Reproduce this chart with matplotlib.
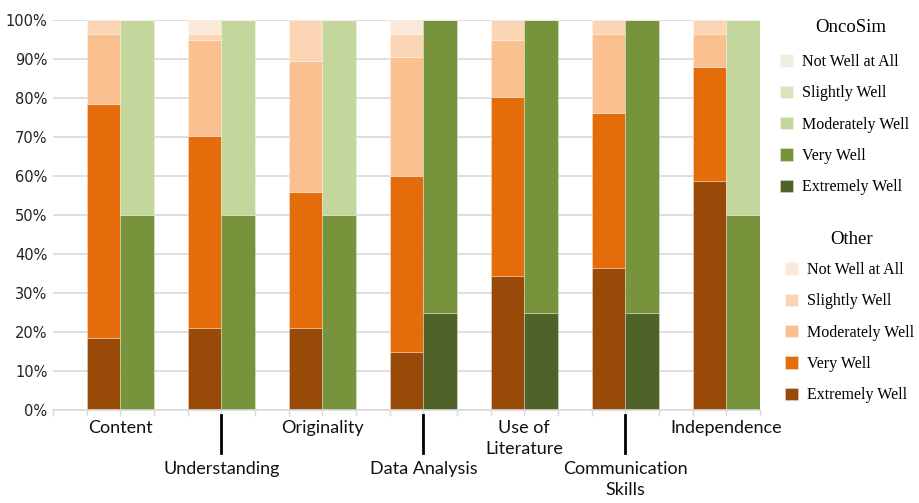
import matplotlib.pyplot as plt
import numpy as np
from matplotlib.ticker import PercentFormatter

categories = ["Content", "Understanding", "Originality", "Data Analysis",
              "Use of\nLiterature", "Communication\nSkills", "Independence"]
levels = ["Extremely Well", "Very Well", "Moderately Well", "Slightly Well", "Not Well at All"]

# "Other" responses, % of each category (bottom to top)
other_extremely = [18.5, 21.0, 21.0, 15.0, 34.4, 36.3, 58.8]
other_very = [60.0, 49.3, 34.9, 45.1, 45.9, 39.9, 29.1]
other_moderately = [18.0, 24.6, 33.7, 30.4, 14.5, 20.3, 8.6]
other_slightly = [3.5, 1.6, 10.4, 6.0, 5.2, 3.5, 3.5]
other_not = [0.0, 3.5, 0.0, 3.5, 0.0, 0.0, 0.0]

# OncoSim responses
onco_extremely = [0, 0, 0, 25, 25, 25, 0]
onco_very = [50, 50, 50, 75, 75, 75, 50]
onco_moderately = [50, 50, 50, 0, 0, 0, 50]
onco_slightly = [0, 0, 0, 0, 0, 0, 0]
onco_not = [0, 0, 0, 0, 0, 0, 0]

other_colors = ["#9A4A08", "#E46C0A", "#FAC090", "#FCD5B5", "#FDE9D9"]
onco_colors = ["#4F6228", "#77933C", "#C3D69B", "#D7E4BD", "#EBF1DE"]

other_series = [other_extremely, other_very, other_moderately, other_slightly, other_not]
onco_series = [onco_extremely, onco_very, onco_moderately, onco_slightly, onco_not]

fig = plt.figure(figsize=(9.2, 5.03), dpi=100)
ax = fig.add_axes([53 / 920, 93 / 503, 707 / 920, 390 / 503])

idx = np.arange(len(categories))
x_other = 3 * idx + 1.5
x_onco = 3 * idx + 2.5
edge = (1, 1, 1, 0.35)

other_handles = []
bottom = np.zeros(len(categories))
for vals, col, lab in zip(other_series, other_colors, levels):
    b = ax.bar(x_other, vals, width=1.0, bottom=bottom, color=col,
               edgecolor=edge, linewidth=0.6, label=lab, zorder=2)
    other_handles.append(b)
    bottom += np.array(vals)

onco_handles = []
bottom = np.zeros(len(categories))
for vals, col, lab in zip(onco_series, onco_colors, levels):
    b = ax.bar(x_onco, vals, width=1.0, bottom=bottom, color=col,
               edgecolor=edge, linewidth=0.6, label=lab, zorder=2)
    onco_handles.append(b)
    bottom += np.array(vals)

ax.set_xlim(0, 21)
ax.set_ylim(0, 100)
ax.set_yticks(np.arange(0, 101, 10))
ax.yaxis.set_major_formatter(PercentFormatter(decimals=0))
ax.yaxis.grid(True, color="#D9D9D9", linewidth=1.2)
ax.set_axisbelow(True)
for s in ["top", "right", "left"]:
    ax.spines[s].set_visible(False)
ax.spines["bottom"].set_color("#D9D9D9")
ax.spines["bottom"].set_linewidth(1.2)
ax.set_xticks(np.arange(0, 22))
ax.set_xticklabels([])
ax.tick_params(axis="x", length=4, color="#D9D9D9", width=1)
ax.tick_params(axis="y", length=0, pad=4, labelsize=10.5, labelcolor="#222222")

# category labels, alternating rows with a leader line for the lower row
trans = ax.get_xaxis_transform()
for i, name in enumerate(categories):
    xc = 3 * i + 2
    lower = i % 2 == 1
    y = -0.132 if lower else -0.026
    ax.text(xc, y, name, transform=trans, ha="center", va="top",
            fontsize=13, family="Lato", linespacing=1.35, color="#111111")
    if lower:
        ax.plot([xc, xc], [-0.013, -0.11], transform=trans, color="black",
                linewidth=2, clip_on=False)

# two legends, titles placed as separate text
legend_font = {"family": "Liberation Serif", "size": 11.5}
legend_kw = dict(loc="upper left", frameon=False, prop=legend_font, borderpad=0,
                 borderaxespad=0, labelspacing=0.96, handlelength=0.8,
                 handleheight=0.8, handletextpad=0.6)

fig.legend(handles=onco_handles[::-1], labels=levels[::-1],
           bbox_to_anchor=(780 / 920, 1 - 54 / 503), **legend_kw)
fig.legend(handles=other_handles[::-1], labels=levels[::-1],
           bbox_to_anchor=(785 / 920, 1 - 262 / 503), **legend_kw)
fig.text(851 / 920, 1 - 27 / 503, "OncoSim", ha="center", va="center",
         family="Liberation Serif", fontsize=13.5)
fig.text(852 / 920, 1 - 239 / 503, "Other", ha="center", va="center",
         family="Liberation Serif", fontsize=13.5)

fig.savefig("out.png", dpi=100)
